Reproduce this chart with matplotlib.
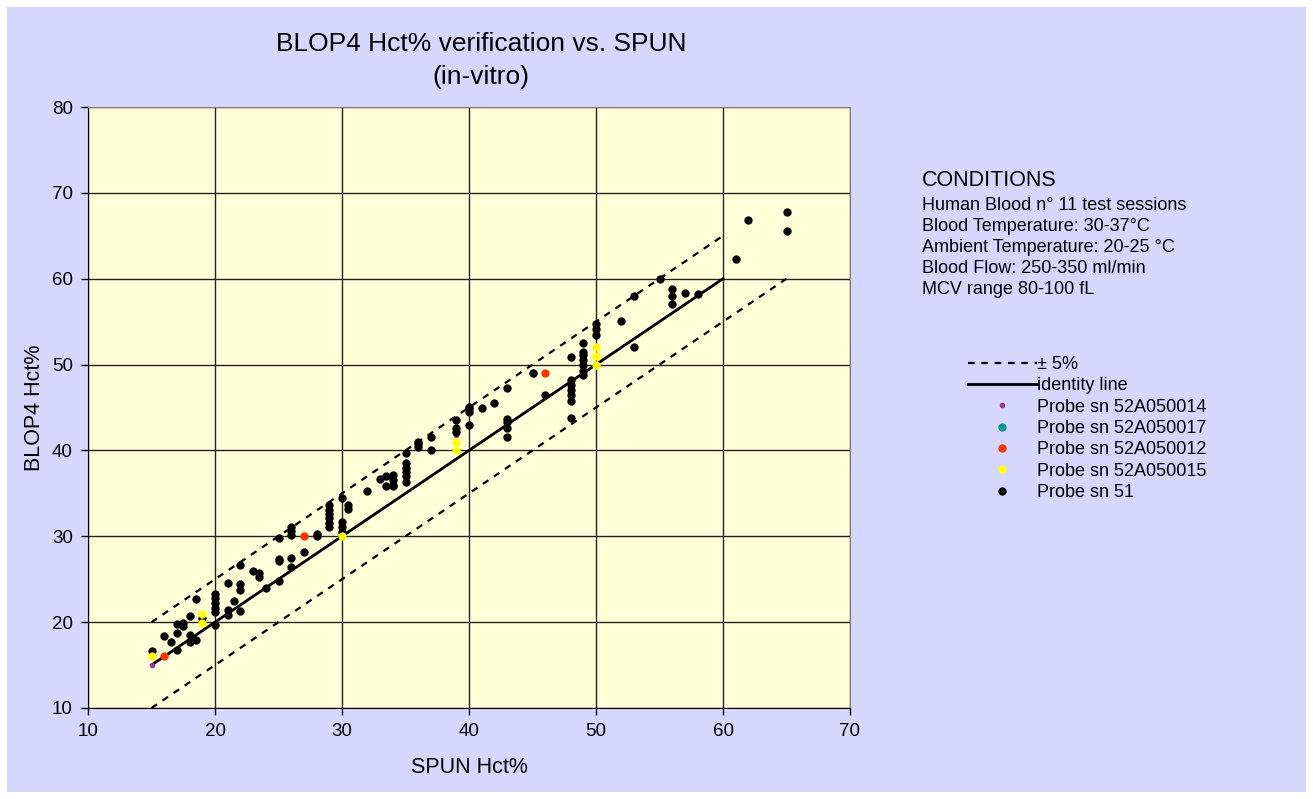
import matplotlib.pyplot as plt
from matplotlib.patches import Rectangle

# reference lines
ident_x = [15, 60]
ident_y = [15, 60]
upper_x = [15, 60]
upper_y = [20, 65]
lower_x = [15, 65]
lower_y = [10, 60]

# probe series (SPUN Hct%, BLOP4 Hct%)
p14_x = [15, 39]
p14_y = [15.0, 41.8]

p17_x = [45]
p17_y = [49.0]

p12_x = [16, 27, 46]
p12_y = [16.0, 30.0, 49.0]

p15_x = [15, 19, 19, 30, 39, 39, 50, 50, 50]
p15_y = [16.0, 21.0, 19.9, 30.0, 41.0, 40.0, 52.0, 51.0, 50.0]

p51_x = [15, 16, 16.5, 17, 17, 17, 17.5, 17.5, 18, 18, 18, 18.5, 18.5, 19,
         20, 20, 20, 20, 20, 20, 21, 21, 21, 21.5, 22, 22, 22, 22, 23,
         23.5, 23.5, 24, 25, 25, 25, 25, 26, 26, 26, 26, 26, 27, 28, 28,
         29, 29, 29, 29, 29, 29, 30, 30, 30, 30, 30.5, 30.5, 32, 33,
         33.5, 33.5, 34, 34, 34, 34, 35, 35, 35, 35, 35, 35, 36, 36, 36,
         37, 37, 39, 39, 39, 40, 40, 40, 40, 41, 42, 43, 43, 43, 43, 43,
         45, 46, 48, 48, 48, 48, 48, 48, 48, 49, 49, 49, 49, 49, 49, 49,
         50, 50, 50, 52, 53, 53, 55, 56, 56, 56, 57, 58, 61, 62, 65, 65]
p51_y = [16.6, 18.4, 17.7, 19.8, 18.7, 16.8, 19.9, 19.5, 20.7, 18.5, 17.7, 17.9, 22.7, 20.5,
         23.3, 22.8, 22.2, 21.6, 21.2, 19.7, 21.4, 20.8, 24.6, 22.5, 24.4, 23.7, 21.3, 26.6, 25.9,
         25.7, 25.2, 24.0, 27.4, 27.1, 29.8, 24.8, 31.1, 30.6, 30.2, 27.5, 26.4, 28.2, 30.3, 30.0,
         33.6, 33.1, 32.6, 32.1, 31.6, 31.1, 34.5, 31.7, 31.1, 30.5, 33.6, 33.2, 35.3, 36.7,
         37.0, 35.8, 37.1, 36.5, 36.0, 35.8, 39.7, 38.5, 38.0, 37.5, 37.0, 36.3, 40.8, 40.4, 41.0,
         41.6, 40.0, 43.6, 42.6, 42.2, 45.1, 44.8, 44.5, 43.0, 45.0, 45.5, 47.3, 43.7, 43.3, 42.6, 41.6,
         49.0, 46.4, 50.9, 48.2, 47.6, 47.0, 46.4, 45.7, 43.8, 52.5, 51.5, 51.1, 50.5, 49.9, 49.3, 48.8,
         54.7, 54.1, 53.4, 55.1, 58.0, 52.1, 60.0, 58.8, 58.0, 57.0, 58.3, 58.2, 62.3, 66.8, 67.8, 65.6]

x_ticks = [10, 20, 30, 40, 50, 60, 70]
y_ticks = [10, 20, 30, 40, 50, 60, 70, 80]

conditions = ["Human Blood n° 11 test sessions",
              "Blood Temperature: 30-37°C",
              "Ambient Temperature: 20-25 °C",
              "Blood Flow: 250-350 ml/min",
              "MCV range 80-100 fL"]

plt.rcParams['font.family'] = ['Liberation Sans', 'DejaVu Sans']

fig = plt.figure(figsize=(13.13, 7.99), dpi=100)
fig.patch.set_facecolor('white')
fig.patches.append(Rectangle((7 / 1313, 7 / 799), 1299 / 1313, 785 / 799,
                             transform=fig.transFigure, facecolor='#D6D6FF',
                             edgecolor='none', zorder=-10))

ax = fig.add_axes([88 / 1313, 1 - 708 / 799, 762 / 1313, 601 / 799])
ax.set_facecolor('#FFFFD8')

ax.plot(upper_x, upper_y, color='black', lw=1.6, ls=(0, (3, 3)), label='± 5%', zorder=3)
ax.plot(ident_x, ident_y, color='black', lw=2.0, label='identity line', zorder=3)
ax.plot(lower_x, lower_y, color='black', lw=1.6, ls=(0, (3, 3)), zorder=3)

ax.plot(p14_x, p14_y, 'o', color='#993399', ms=4, mec='none', label='Probe sn 52A050014', zorder=4)
ax.plot(p17_x, p17_y, 'o', color='#009999', ms=6, mec='none', label='Probe sn 52A050017', zorder=4)
ax.plot(p12_x, p12_y, 'o', color='#FF3300', ms=6, mec='none', label='Probe sn 52A050012', zorder=5)
ax.plot(p15_x, p15_y, 'o', color='#FFFF00', ms=6, mec='none', label='Probe sn 52A050015', zorder=5)
ax.plot(p51_x, p51_y, 'o', color='black', ms=6, mec='none', label='Probe sn 51', zorder=4)

ax.set_xlim(10, 70)
ax.set_ylim(10, 80)
ax.set_xticks(x_ticks)
ax.set_yticks(y_ticks)
ax.grid(True, color='#222222', lw=1.0)
ax.set_axisbelow(True)
for s in ['top', 'right']:
    ax.spines[s].set_color('#808080')
for s in ['left', 'bottom']:
    ax.spines[s].set_color('black')
ax.tick_params(direction='out', length=5, width=1, labelsize=13.5, pad=6)

ax.set_xlabel('SPUN Hct%', fontsize=15.5, labelpad=12)
ax.set_ylabel('BLOP4 Hct%', fontsize=15.5, labelpad=5)

fig.text(481 / 1313, 1 - 32 / 799, 'BLOP4 Hct% verification vs. SPUN\n(in-vitro)',
         ha='center', va='top', fontsize=19, linespacing=1.45)

fig.text(922 / 1313, 1 - 170 / 799, 'CONDITIONS', ha='left', va='top', fontsize=15.5)
fig.text(922 / 1313, 1 - 197 / 799, '\n'.join(conditions), ha='left', va='top',
         fontsize=13, linespacing=1.3)

leg = ax.legend(loc='upper left', bbox_to_anchor=(968 / 1313, 1 - 356 / 799),
                bbox_transform=fig.transFigure, frameon=False, fontsize=13,
                handlelength=3.8, handletextpad=0.0, labelspacing=0.24,
                borderaxespad=0, borderpad=0)

fig.savefig('out.png', dpi=100, facecolor=fig.get_facecolor())
